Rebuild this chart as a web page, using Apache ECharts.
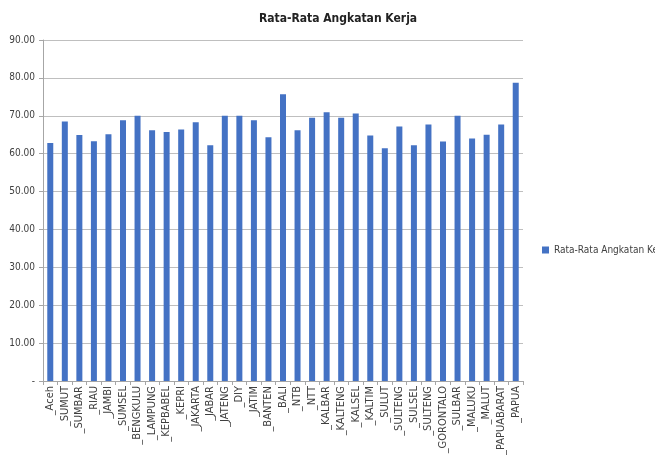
<!DOCTYPE html>
<html><head><meta charset="utf-8">
<script src="https://cdn.jsdelivr.net/npm/echarts@6/dist/echarts.min.js"></script>
<style>html,body{margin:0;padding:0;background:#fff}#c{width:655px;height:462px}</style>
</head><body><div id="c"></div>
<script>
const categories = ['_Aceh','_SUMUT','_SUMBAR','_RIAU','_JAMBI','_SUMSEL','_BENGKULU','_LAMPUNG','_KEPBABEL','_KEPRI','_JAKARTA','_JABAR','_JATENG','_DIY','_JATIM','_BANTEN','_BALI','_NTB','_NTT','_KALBAR','_KALTENG','_KALSEL','_KALTIM','_SULUT','_SULTENG','_SULSEL','_SULTENG','_GORONTALO','_SULBAR','_MALUKU','_MALUT','_PAPUABARAT','_PAPUA'];
const values = [62.8,68.5,64.9,63.3,65.1,68.8,70.0,66.2,65.7,66.4,68.3,62.2,70.0,70.0,68.8,64.3,75.7,66.2,69.5,70.9,69.5,70.6,64.8,61.4,67.2,62.2,67.7,63.2,70.0,64.0,65.0,67.7,78.7];
const seriesName = 'Rata-Rata Angkatan Kerja (%)';
const titleText = 'Rata-Rata Angkatan Kerja';
const font = '"Liberation Sans Narrow", "DejaVu Sans Condensed", "Open Sans", sans-serif';
const chart = echarts.init(document.getElementById('c'));
chart.setOption({
  animation: false,
  title: {text: titleText, left: 333, top: 8, textAlign: 'center',
    textStyle: {fontFamily: font, fontSize: 12, fontWeight: 'bold', color: '#222'}},
  legend: {data: [seriesName], left: 537, top: 240, itemWidth: 7, itemHeight: 7, itemGap: 3,
    icon: 'rect', textStyle: {fontFamily: font, fontSize: 10, color: '#404040', width: 200, overflow: 'none'}},
  grid: {left: 43, right: 132, top: 40, bottom: 81},
  xAxis: {type: 'category', data: categories,
    axisLine: {lineStyle: {color: '#a6a6a6'}},
    axisTick: {show: true, length: 4, lineStyle: {color: '#a6a6a6'}},
    axisLabel: {rotate: 90, interval: 0, margin: 5, fontFamily: font, fontSize: 11, color: '#404040'}},
  yAxis: {type: 'value', min: 0, max: 90, interval: 10,
    axisLine: {show: true, lineStyle: {color: '#a6a6a6'}},
    axisTick: {show: true, length: 4, lineStyle: {color: '#a6a6a6'}},
    splitLine: {lineStyle: {color: '#bfbfbf'}},
    axisLabel: {margin: 8, fontFamily: font, fontSize: 10, color: '#404040',
      formatter: v => v === 0 ? '-' : v.toFixed(2)}},
  series: [{name: seriesName, type: 'bar', data: values, barWidth: 6,
    itemStyle: {color: '#4472C4'}}]
});
</script></body></html>
